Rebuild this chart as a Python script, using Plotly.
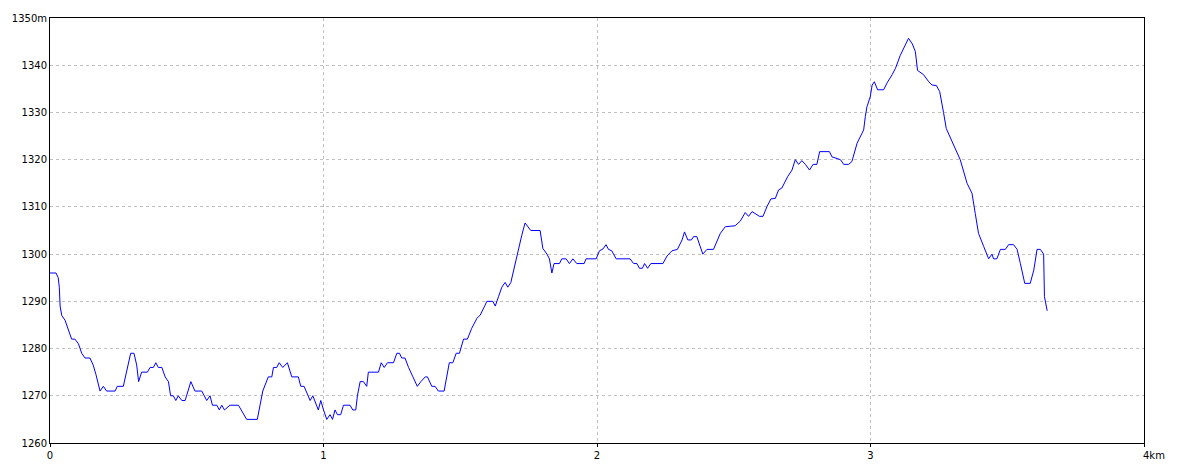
import plotly.graph_objects as go

distance_km = [0.0, 0.022, 0.030, 0.034, 0.037, 0.043, 0.055, 0.067, 0.079, 0.091,
               0.104, 0.116, 0.128, 0.146, 0.158, 0.168, 0.183, 0.195, 0.207, 0.238,
               0.246, 0.268, 0.281, 0.295, 0.307, 0.317, 0.324, 0.335, 0.356, 0.366,
               0.378, 0.387, 0.396, 0.409, 0.421, 0.433, 0.441, 0.451, 0.460, 0.469,
               0.482, 0.494, 0.515, 0.530, 0.555, 0.573, 0.585, 0.594, 0.610, 0.619,
               0.628, 0.638, 0.658, 0.689, 0.719, 0.758, 0.778, 0.798, 0.811, 0.817,
               0.829, 0.838, 0.851, 0.868, 0.884, 0.908, 0.917, 0.929, 0.951, 0.961,
               0.981, 0.990, 1.000, 1.012, 1.024, 1.033, 1.042, 1.051, 1.063, 1.073,
               1.097, 1.107, 1.118, 1.124, 1.134, 1.146, 1.158, 1.164, 1.201, 1.211,
               1.222, 1.234, 1.256, 1.268, 1.278, 1.286, 1.298, 1.311, 1.327, 1.343,
               1.356, 1.372, 1.380, 1.396, 1.408, 1.420, 1.441, 1.451, 1.460, 1.473,
               1.485, 1.497, 1.512, 1.526, 1.542, 1.561, 1.573, 1.591, 1.597, 1.619,
               1.628, 1.640, 1.652, 1.664, 1.674, 1.685, 1.695, 1.713, 1.725, 1.737,
               1.749, 1.758, 1.792, 1.802, 1.817, 1.826, 1.835, 1.843, 1.863, 1.871,
               1.887, 1.899, 1.912, 1.926, 1.953, 1.960, 1.997, 2.009, 2.022, 2.033,
               2.042, 2.054, 2.070, 2.121, 2.134, 2.146, 2.155, 2.166, 2.174, 2.185,
               2.197, 2.241, 2.256, 2.274, 2.294, 2.311, 2.320, 2.332, 2.345, 2.353,
               2.365, 2.387, 2.402, 2.426, 2.451, 2.469, 2.505, 2.524, 2.542, 2.554,
               2.567, 2.579, 2.594, 2.607, 2.621, 2.636, 2.652, 2.664, 2.676, 2.697,
               2.713, 2.725, 2.737, 2.749, 2.762, 2.777, 2.790, 2.804, 2.814, 2.850,
               2.859, 2.890, 2.902, 2.920, 2.932, 2.951, 2.975, 2.981, 2.987, 2.999,
               3.006, 3.014, 3.026, 3.048, 3.060, 3.079, 3.091, 3.109, 3.124, 3.139,
               3.153, 3.164, 3.172, 3.194, 3.213, 3.225, 3.241, 3.253, 3.267, 3.277,
               3.304, 3.328, 3.353, 3.371, 3.383, 3.395, 3.414, 3.432, 3.444, 3.450,
               3.462, 3.475, 3.493, 3.505, 3.523, 3.536, 3.548, 3.564, 3.584, 3.597,
               3.609, 3.621, 3.633, 3.636, 3.646]

elevation_m = [1296, 1296, 1295, 1293, 1289, 1287, 1286, 1284, 1282, 1282,
               1281, 1279, 1278, 1278, 1276.5, 1274.5, 1271, 1272, 1271, 1271,
               1272, 1272, 1275.5, 1279, 1279, 1276.5, 1273, 1275, 1275, 1276,
               1276, 1277, 1276, 1276, 1274, 1273, 1270, 1270, 1269, 1270,
               1269, 1269, 1273, 1271, 1271, 1269, 1270, 1268, 1268, 1267,
               1268, 1267, 1268, 1268, 1265, 1265, 1271, 1274, 1274, 1276,
               1276, 1277, 1276, 1277, 1274, 1274, 1272, 1272, 1269, 1270,
               1267, 1269, 1267, 1265, 1266, 1265, 1267, 1266, 1266, 1268,
               1268, 1267, 1267, 1270, 1273, 1273, 1272, 1275, 1275, 1277,
               1276, 1277, 1277, 1279, 1279, 1278, 1278, 1276, 1274, 1272,
               1273, 1274, 1274, 1272, 1272, 1271, 1271, 1274, 1277, 1277,
               1279, 1279, 1282, 1282, 1284.3, 1286.4, 1287.1, 1289.2, 1290, 1290,
               1289, 1291, 1293, 1294, 1293, 1294, 1296.6, 1301.2, 1304, 1306.6,
               1305.8, 1305, 1305, 1301.2, 1300, 1299, 1296, 1298, 1298, 1299,
               1299, 1298, 1299, 1298, 1298, 1299, 1299, 1300.7, 1301.1, 1302,
               1301, 1300.7, 1299, 1299, 1298, 1298, 1297, 1297, 1298, 1297,
               1298, 1298, 1299.6, 1300.7, 1301, 1303, 1304.7, 1303, 1303, 1303.7,
               1303.7, 1300, 1301, 1301, 1304.4, 1305.8, 1306, 1307, 1308.8, 1308,
               1309, 1308.6, 1308, 1308, 1310, 1311.7, 1311.8, 1313.6, 1314, 1316.4,
               1317.8, 1320, 1319, 1319.8, 1319, 1317.8, 1319, 1319, 1321.7, 1321.7,
               1320.6, 1320, 1319, 1319, 1319.6, 1323.5, 1326.3, 1329.1, 1331.2, 1333.3,
               1335.8, 1336.5, 1334.8, 1334.8, 1336.2, 1338, 1339.3, 1342.1, 1343.9, 1345.7,
               1344.5, 1342.9, 1338.9, 1338, 1336.5, 1335.8, 1335.7, 1334.4, 1330, 1326.6,
               1323.1, 1320, 1315, 1312.9, 1308.6, 1304.4, 1301.6, 1299, 1300, 1299,
               1299, 1301, 1301, 1302, 1302, 1301, 1298, 1293.8, 1293.8, 1296.6,
               1301, 1301, 1300, 1291, 1288]

x_tick_vals = [0, 1, 2, 3]
x_tick_text = ["0", "1", "2", "3"]
y_tick_vals = [1260, 1270, 1280, 1290, 1300, 1310, 1320, 1330, 1340, 1350]
y_tick_text = ["1260", "1270", "1280", "1290", "1300", "1310", "1320", "1330", "1340", "1350m"]

FONT = dict(family="DejaVu Sans", size=10, color="black")

fig = go.Figure()
fig.add_trace(go.Scatter(
    x=distance_km, y=elevation_m, mode="lines",
    line=dict(color="#0000ff", width=1),
    hoverinfo="x+y", showlegend=False,
))

# page body has an 8px default margin, so the figure is sized/offset to compensate
fig.update_layout(
    width=1176, height=465,
    margin=dict(l=42, r=40, t=10, b=30),
    paper_bgcolor="white", plot_bgcolor="white",
    font=FONT,
    xaxis=dict(
        range=[0, 4], tickvals=x_tick_vals + [4], ticktext=x_tick_text + [""],
        showgrid=True, gridcolor="#c0c0c0", griddash="3px,3px", gridwidth=1,
        showline=True, linecolor="black", linewidth=1, mirror=True,
        ticks="outside", ticklen=3, tickcolor="black",
        zeroline=False, tickfont=FONT, automargin=False,
    ),
    yaxis=dict(
        range=[1260, 1350], tickvals=y_tick_vals, ticktext=y_tick_text,
        showgrid=True, gridcolor="#c0c0c0", griddash="3px,3px", gridwidth=1,
        showline=True, linecolor="black", linewidth=1, mirror=True,
        ticks="", ticklen=0, zeroline=False, tickfont=FONT, automargin=False,
    ),
    annotations=[dict(
        x=4, y=0, xref="x", yref="paper", text="4km", showarrow=False,
        xanchor="left", yanchor="top", xshift=-3, yshift=-5, font=FONT,
    )],
)

fig.write_html("out.html")
